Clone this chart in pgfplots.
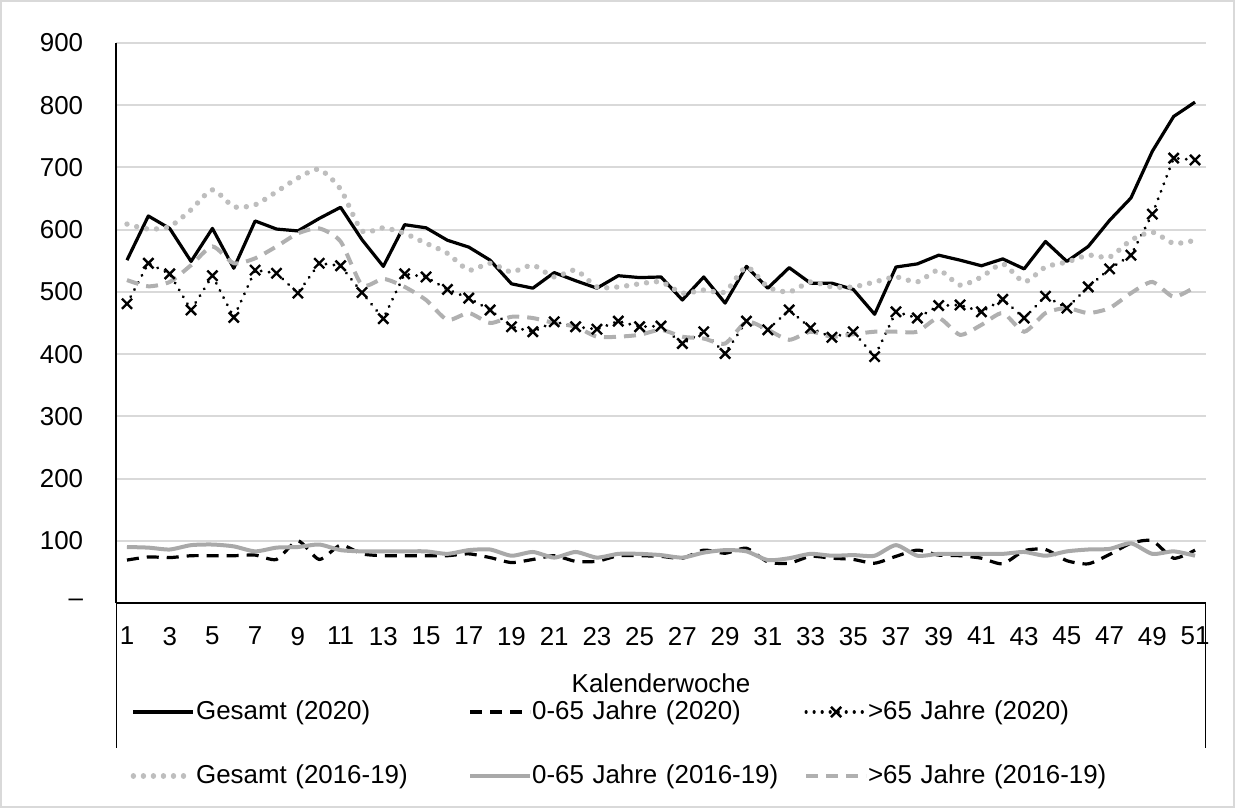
\documentclass[border=0pt]{standalone}
\usepackage{fontspec}
\setmainfont{Liberation Sans}
\usepackage{pgfplots}
\pgfplotsset{compat=1.18}
\definecolor{gridc}{HTML}{D9D9D9}
\definecolor{gdot}{HTML}{BEBEBE}
\definecolor{gsol}{HTML}{A9A9A9}
\definecolor{gdash}{HTML}{B0B0B0}
\newcommand{\lf}{\fontsize{13}{15.6}\selectfont}
\begin{document}
\begin{tikzpicture}[x=1bp,y=1bp]
\path[use as bounding box] (0,0) rectangle (617.5,404);
\draw[gridc, line width=0.75bp] (0.4,0.4) rectangle (617.1,403.6);
\begin{axis}[
  at={(58.15bp,102.5bp)}, anchor=south west,
  scale only axis, width=544.7bp, height=280bp,
  xmin=0.5, xmax=51.5, ymin=0, ymax=900,
  axis x line*=bottom, axis y line*=left,
  axis line style={line width=1bp, black},
  xtick={1,3,...,51}, ytick={0,100,...,900},
  yticklabels={–,100,200,300,400,500,600,700,800,900},
  major tick length=0pt,
  ymajorgrids, grid style={gridc, line width=1bp},
  tick label style={font=\lf},
  /pgf/number format/assume math mode=true,
  xticklabel style={anchor=north, inner sep=0pt, yshift=-11.8bp},
  yticklabel style={anchor=east, inner sep=0pt, xshift=-16.4bp},
  xlabel={Kalenderwoche},
  xlabel style={at={(axis description cs:0.5,0)}, anchor=center, inner sep=0pt, yshift=-40bp, font=\lf},
  legend columns=3,
  legend cell align=left,
  legend style={at={(axis description cs:0.4765,-0.2518)}, anchor=center, draw=none, fill=none, font=\lf, inner sep=0pt,
    /tikz/row sep=19bp,
    /tikz/every odd column/.append style={column sep=0bp},
    /tikz/every even column/.append style={column sep=0bp},
    nodes={inner sep=0pt, text width=136bp, text height=10bp, text depth=3bp, anchor=west}},
  legend image code/.code={\draw[mark repeat=2,mark phase=2,#1] plot coordinates {(0bp,0bp) (15bp,0bp) (30bp,0bp)};},
]
% Gesamt (2020)
\addplot[black, line width=1.6bp, line join=round] coordinates {
(1,551)(2,622)(3,602)(4,549)(5,602)(6,538)(7,614)(8,601)(9,598)(10,618)
(11,636)(12,584)(13,541)(14,608)(15,603)(16,583)(17,572)(18,551)(19,513)(20,506)
(21,531)(22,518)(23,506)(24,526)(25,523)(26,524)(27,487)(28,524)(29,482)(30,541)
(31,506)(32,539)(33,514)(34,514)(35,504)(36,464)(37,540)(38,545)(39,559)(40,551)
(41,542)(42,553)(43,537)(44,581)(45,549)(46,573)(47,615)(48,651)(49,726)(50,782)(51,805)};
\addlegendentry{Gesamt (2020)}
% 0-65 Jahre (2020)
\addplot[black, line width=1.6bp, dash pattern=on 6bp off 4bp, smooth, tension=0.4] coordinates {
(1,69)(2,74)(3,73)(4,76)(5,76)(6,76)(7,77)(8,70)(9,100)(10,70)
(11,93)(12,79)(13,76)(14,76)(15,76)(16,76)(17,79)(18,73)(19,65)(20,70)
(21,76)(22,67)(23,67)(24,76)(25,76)(26,75)(27,72)(28,85)(29,80)(30,88)
(31,66)(32,64)(33,75)(34,72)(35,70)(36,64)(37,75)(38,85)(39,77)(40,76)
(41,72)(42,63)(43,84)(44,86)(45,68)(46,63)(47,78)(48,96)(49,100)(50,72)(51,85)};
\addlegendentry{0-65 Jahre (2020)}
% >65 Jahre (2020)
\addplot[black, line width=1.6bp, line cap=round, dash pattern=on 0.01bp off 4bp,
  mark=x, mark size=3.6bp, mark options={solid, line width=1.2bp, line cap=butt}] coordinates {
(1,481)(2,546)(3,529)(4,471)(5,526)(6,459)(7,535)(8,530)(9,498)(10,546)
(11,542)(12,499)(13,457)(14,529)(15,524)(16,504)(17,490)(18,471)(19,444)(20,436)
(21,452)(22,444)(23,440)(24,453)(25,444)(26,445)(27,417)(28,436)(29,401)(30,453)
(31,439)(32,471)(33,442)(34,427)(35,436)(36,396)(37,468)(38,458)(39,478)(40,479)
(41,468)(42,488)(43,458)(44,493)(45,474)(46,508)(47,537)(48,559)(49,625)(50,715)(51,712)};
\addlegendentry{>65 Jahre (2020)}
% Gesamt (2016-19)
\addplot[gdot, line width=2.7bp, line cap=round, dash pattern=on 0.01bp off 5bp, smooth, tension=0.4] coordinates {
(1,609)(2,601)(3,605)(4,632)(5,664)(6,637)(7,640)(8,661)(9,683)(10,697)
(11,665)(12,598)(13,603)(14,594)(15,578)(16,562)(17,535)(18,546)(19,532)(20,543)
(21,524)(22,535)(23,508)(24,508)(25,513)(26,516)(27,498)(28,503)(29,500)(30,540)
(31,508)(32,500)(33,516)(34,508)(35,508)(36,516)(37,524)(38,516)(39,535)(40,511)
(41,524)(42,545)(43,516)(44,540)(45,548)(46,559)(47,556)(48,583)(49,596)(50,578)(51,583)};
\addlegendentry{Gesamt (2016-19)}
% 0-65 Jahre (2016-19)
\addplot[gsol, line width=2bp, smooth, tension=0.4] coordinates {
(1,90)(2,89)(3,86)(4,93)(5,94)(6,91)(7,83)(8,89)(9,90)(10,94)
(11,85)(12,83)(13,83)(14,83)(15,83)(16,79)(17,85)(18,86)(19,76)(20,82)
(21,73)(22,82)(23,73)(24,79)(25,79)(26,77)(27,73)(28,81)(29,85)(30,83)
(31,69)(32,72)(33,79)(34,76)(35,77)(36,76)(37,93)(38,76)(39,79)(40,79)
(41,79)(42,79)(43,82)(44,76)(45,83)(46,86)(47,87)(48,96)(49,79)(50,83)(51,76)};
\addlegendentry{0-65 Jahre (2016-19)}
% >65 Jahre (2016-19)
\addplot[gdash, line width=2bp, dash pattern=on 6bp off 4bp, smooth, tension=0.4] coordinates {
(1,519)(2,509)(3,516)(4,543)(5,573)(6,546)(7,554)(8,573)(9,594)(10,602)
(11,581)(12,511)(13,521)(14,508)(15,487)(16,455)(17,466)(18,450)(19,460)(20,458)
(21,450)(22,444)(23,428)(24,428)(25,431)(26,439)(27,428)(28,425)(29,417)(30,452)
(31,439)(32,423)(33,436)(34,428)(35,432)(36,436)(37,436)(38,436)(39,458)(40,431)
(41,447)(42,466)(43,436)(44,466)(45,474)(46,466)(47,474)(48,498)(49,516)(50,492)(51,508)};
\addlegendentry{>65 Jahre (2016-19)}
\end{axis}
\draw[black, line width=0.75bp] (58.15,102.5) -- (58.15,30);
\draw[black, line width=0.75bp] (602.85,102.5) -- (602.85,30);
\end{tikzpicture}
\end{document}
